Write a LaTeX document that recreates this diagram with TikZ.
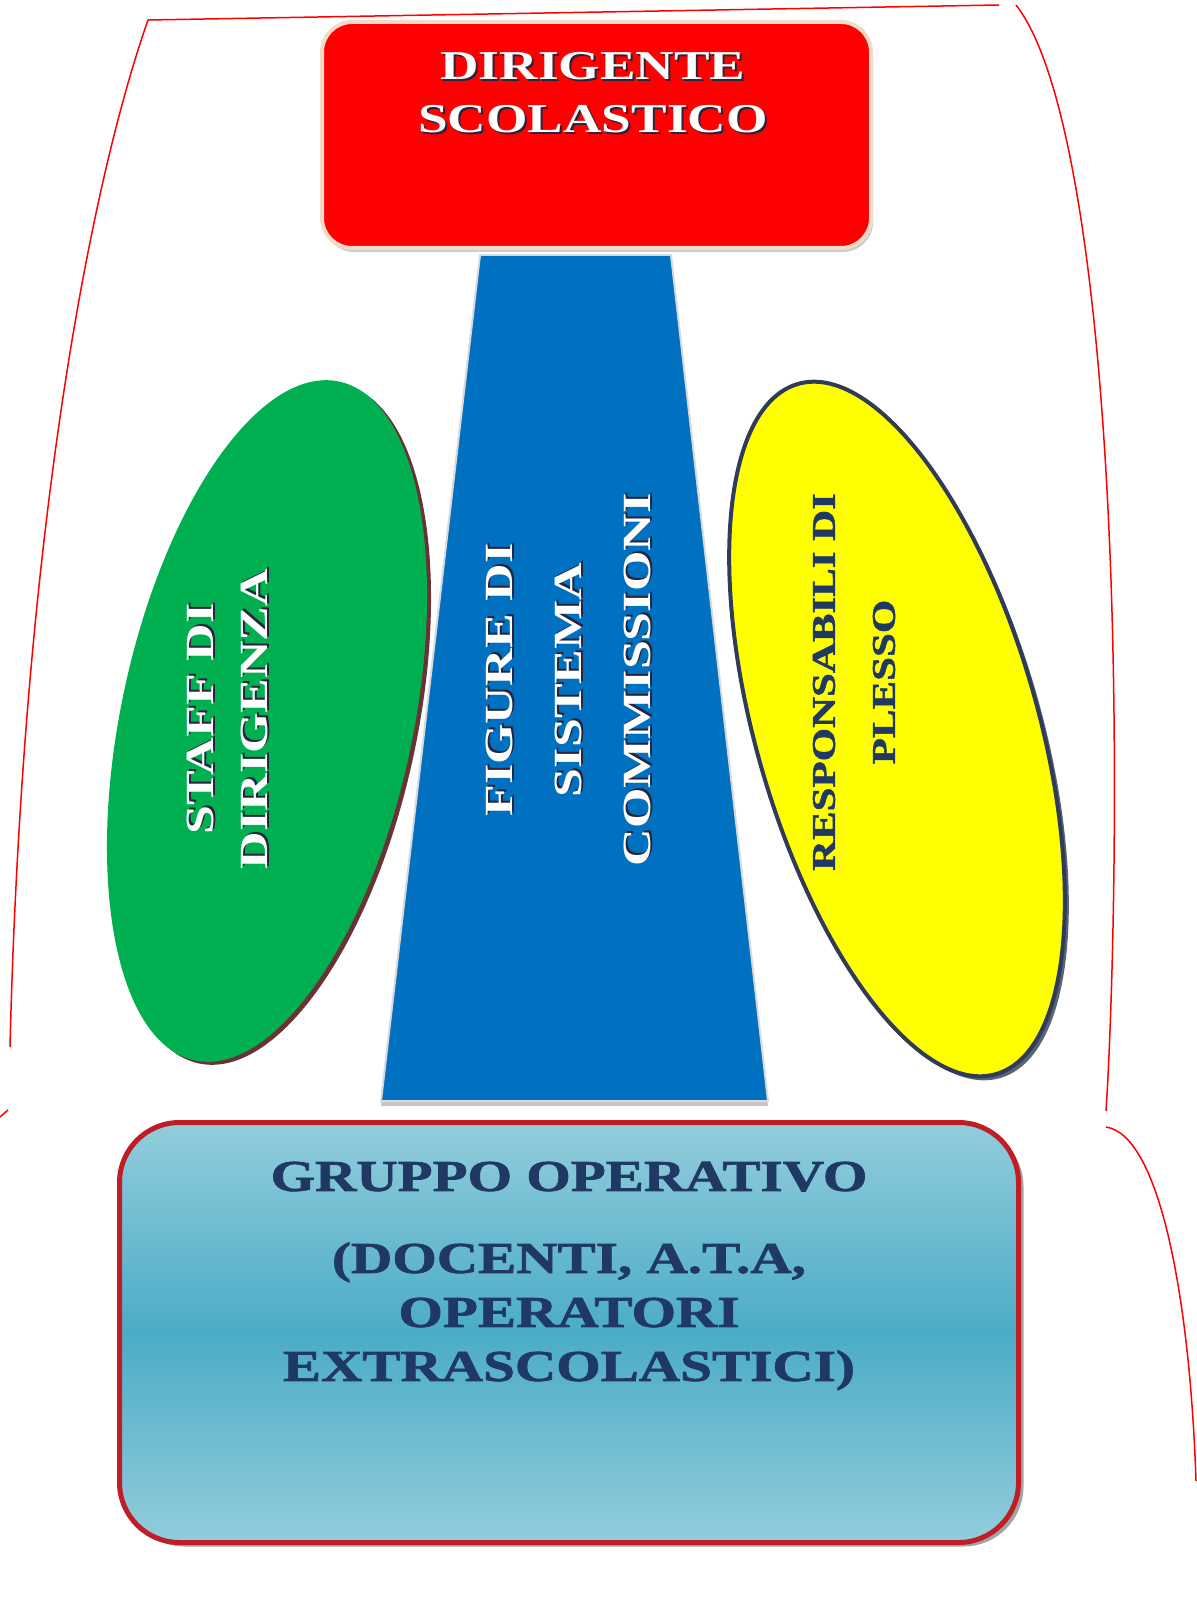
\documentclass[tikz,border=0pt]{standalone}
\usepackage{fontspec}
\usetikzlibrary{shapes.geometric,shadows,positioning}
\newfontfamily\bannerfont{Liberation Serif}[FakeStretch=1.3]
\newfontfamily\heavyfont{Liberation Serif}[FakeStretch=1.3, FakeBold=1.6]

\definecolor{framered}{RGB}{255,0,0}
\definecolor{headred}{RGB}{255,0,0}
\definecolor{headrim}{RGB}{244,218,200}
\definecolor{trunkblue}{RGB}{0,112,192}
\definecolor{staffgreen}{RGB}{0,176,80}
\definecolor{staffshade}{RGB}{90,28,30}
\definecolor{plessoyellow}{RGB}{255,255,0}
\definecolor{plessorim}{RGB}{47,59,88}
\definecolor{aquapale}{RGB}{146,205,220}
\definecolor{aquadeep}{RGB}{75,172,198}
\definecolor{baserim}{RGB}{192,30,38}
\definecolor{navyink}{RGB}{31,56,100}
\definecolor{embossdark}{RGB}{40,36,60}

\newcommand\embossed[1]{\rlap{\textcolor{embossdark}{\hspace{2pt}\raisebox{-2pt}{#1}}}#1}

\tikzset{
  frameline/.style={draw=framered, line width=1.5},
  headbox/.style={rectangle, rounded corners=30, fill=headred, draw=headrim, line width=4,
    minimum width=549, minimum height=226,
    drop shadow={shadow xshift=2, shadow yshift=-4, fill=black!40}},
  trunk/.style={fill=trunkblue, draw=white!85!black, line width=2,
    drop shadow={shadow xshift=0, shadow yshift=-5, fill=black!45}},
  staffoval/.style={ellipse, fill=staffgreen, minimum width=292, minimum height=694, inner sep=0,
    drop shadow={shadow xshift=4, shadow yshift=-3, fill=staffshade, opacity=0.9}},
  plessooval/.style={ellipse, fill=plessoyellow, draw=plessorim, line width=4,
    minimum width=282, minimum height=718, inner sep=0,
    drop shadow={shadow xshift=4, shadow yshift=-4, fill=plessorim, opacity=0.8}},
  basebox/.style={rectangle, rounded corners=60, draw=baserim, line width=5,
    top color=aquapale, bottom color=aquapale, middle color=aquadeep,
    minimum width=899, minimum height=420,
    drop shadow={shadow xshift=5, shadow yshift=-4, fill=black!60, opacity=0.6}},
  whitetag/.style={text=white, align=center, inner sep=0},
  navytag/.style={text=navyink, align=center, inner sep=0},
}

\begin{document}
\begin{tikzpicture}[x=1pt,y=1pt]
\useasboundingbox (0,0) rectangle (1196,-1602);
%% Frame lines
\draw[frameline] (148,-20) -- (999,-5);
\draw[frameline] (148,-20) .. controls (85,-200) and (22,-560) .. (10,-1047);
\draw[frameline] (0,-1117) -- (8,-1110);
\draw[frameline] (1016,-5) .. controls (1075,-80) and (1110,-350) .. (1114,-715)
  .. controls (1116,-900) and (1110,-1050) .. (1106,-1111);
\draw[frameline] (1106,-1127) .. controls (1160,-1135) and (1190,-1300) .. (1196,-1481);
%% Central trunk
\draw[trunk] (480,-255) -- (671,-255) -- (768,-1101) -- (381,-1101) -- cycle;
\node[whitetag, rotate=90, font=\bannerfont\bfseries\fontsize{40}{69}\selectfont] (figure) at (569,-680)
  {\embossed{FIGURE DI}\\\embossed{SISTEMA}\\\embossed{COMMISSIONI}};
%% Side ovals
\node[staffoval, rotate=-12] (staff) at (267,-721) {};
\node[whitetag, rotate=90, font=\bannerfont\bfseries\fontsize{40}{54}\selectfont] (stafftext) at (228,-719)
  {\embossed{STAFF DI}\\\embossed{DIRIGENZA}};
\node[plessooval, rotate=16] (plesso) at (897,-729) {};
\node[navytag, rotate=90, font=\heavyfont\bfseries\fontsize{33}{60}\selectfont] (plessotext) at (854,-682)
  {RESPONSABILI DI\\PLESSO};
%% Head
\node[headbox] (head) at (596.5,-135) {};
\node[whitetag, font=\bannerfont\bfseries\fontsize{41}{53}\selectfont] (headtext) at (593,-94)
  {\embossed{DIRIGENTE}\\\embossed{SCOLASTICO}};
%% Base
\node[basebox] (base) at (569,-1332.5) {};
\node[navytag, font=\heavyfont\bfseries\fontsize{44}{54}\selectfont] (basetext) at (569,-1276)
  {GRUPPO OPERATIVO\\[28pt](DOCENTI, A.T.A,\\OPERATORI\\EXTRASCOLASTICI)};
\end{tikzpicture}
\end{document}
